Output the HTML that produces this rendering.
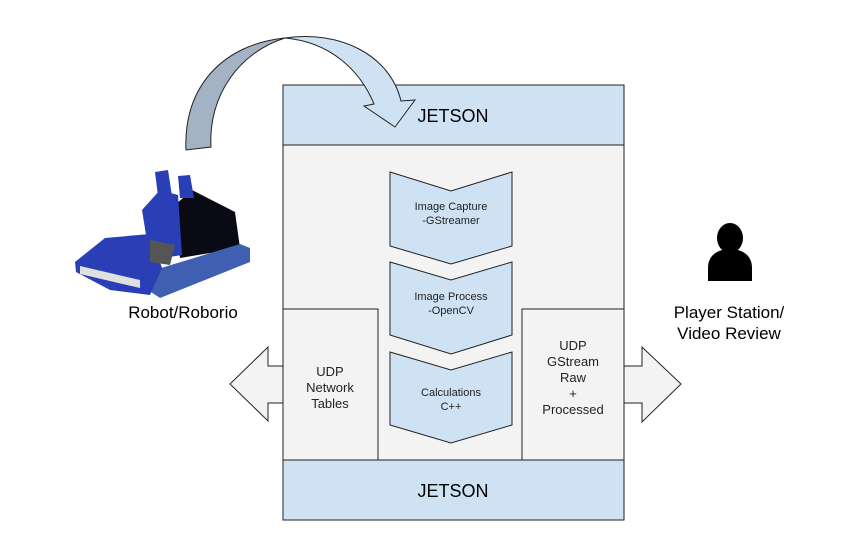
<!DOCTYPE html>
<html><head><style>
html,body{margin:0;padding:0;background:#fff;}
svg{display:block;font-family:"Liberation Sans",Arial,sans-serif;}
</style></head><body>
<svg width="848" height="552" viewBox="0 0 848 552" xmlns="http://www.w3.org/2000/svg">
<rect x="283" y="85" width="341" height="435" fill="#f3f3f3" stroke="#222" stroke-width="1"/>
<rect x="283" y="85" width="341" height="60" fill="#cfe2f3" stroke="#222" stroke-width="1"/>
<rect x="283" y="460" width="341" height="60" fill="#cfe2f3" stroke="#222" stroke-width="1"/>
<text x="453" y="122" font-size="18" text-anchor="middle" fill="#000">JETSON</text>
<text x="453" y="497" font-size="18" text-anchor="middle" fill="#000">JETSON</text>
<rect x="283" y="309" width="95" height="151" fill="#f3f3f3" stroke="#222" stroke-width="1"/>
<rect x="522" y="309" width="102" height="151" fill="#f3f3f3" stroke="#222" stroke-width="1"/>
<text font-size="13" text-anchor="middle" fill="#222"><tspan x="330" y="376">UDP</tspan><tspan x="330" y="392">Network</tspan><tspan x="330" y="408">Tables</tspan></text>
<text font-size="13" text-anchor="middle" fill="#222"><tspan x="573" y="350">UDP</tspan><tspan x="573" y="366">GStream</tspan><tspan x="573" y="382">Raw</tspan><tspan x="573" y="398">+</tspan><tspan x="573" y="414">Processed</tspan></text>
<g fill="#cfe2f3" stroke="#222" stroke-width="1">
<polygon points="390,172 451,191 512,172 512,246 451,264 390,246"/>
<polygon points="390,262 451,280 512,262 512,335 451,354 390,335"/>
<polygon points="390,352 451,370 512,352 512,425 451,443 390,425"/>
</g>
<text font-size="11" text-anchor="middle" fill="#222"><tspan x="451" y="210">Image Capture</tspan><tspan x="451" y="224">-GStreamer</tspan></text>
<text font-size="11" text-anchor="middle" fill="#222"><tspan x="451" y="300">Image Process</tspan><tspan x="451" y="314">-OpenCV</tspan></text>
<text font-size="11" text-anchor="middle" fill="#222"><tspan x="451" y="396">Calculations</tspan><tspan x="451" y="410">C++</tspan></text>
<polygon points="283,366 268,366 268,347 230,384 268,421 268,403 283,403" fill="#f3f3f3" stroke="#222" stroke-width="1"/>
<polygon points="624,366 642,366 642,347 681,384 642,422 642,403 624,403" fill="#f3f3f3" stroke="#222" stroke-width="1"/>
<!-- curved arrow -->
<path d="M186,150 C183,85 225,44 285,38 C240,52 208,95 211,147 Z" fill="#a3b3c3" stroke="#222" stroke-width="1"/>
<path d="M285,38 C340,30 390,55 401,101 L415,100 L395,127 L364,106 L374,104 C360,70 330,42 285,38 Z" fill="#cfe2f3" stroke="#222" stroke-width="1"/>
<!-- robot -->
<g>
<polygon points="175,205 192,190 235,212 240,248 180,258" fill="#0a0a14"/>
<polygon points="148,272 240,244 250,248 250,262 160,298 148,290" fill="#3f5fb0"/>
<polygon points="142,210 160,190 178,195 182,255 150,260" fill="#2a3fb5"/>
<polygon points="155,172 168,170 172,196 158,196" fill="#2a3fb5"/>
<polygon points="178,176 190,175 194,198 180,198" fill="#2a3fb5"/>
<polygon points="75,262 105,238 150,234 162,268 150,295 110,290 76,272" fill="#2a3fb5"/>
<polygon points="80,266 140,280 140,288 80,274" fill="#e0e0e0"/>
<polygon points="150,240 175,245 170,265 150,262" fill="#555"/>
</g>
<text x="183" y="318" font-size="17" text-anchor="middle" fill="#000">Robot/Roborio</text>
<g fill="#000">
<ellipse cx="730" cy="238" rx="13" ry="15"/>
<path d="M708,281 L708,268 C708,255 718,249 730,249 C742,249 752,255 752,268 L752,281 Z"/>
</g>
<text font-size="17" text-anchor="middle" fill="#000"><tspan x="729" y="318">Player Station/</tspan><tspan x="729" y="339">Video Review</tspan></text>
</svg>
</body></html>
